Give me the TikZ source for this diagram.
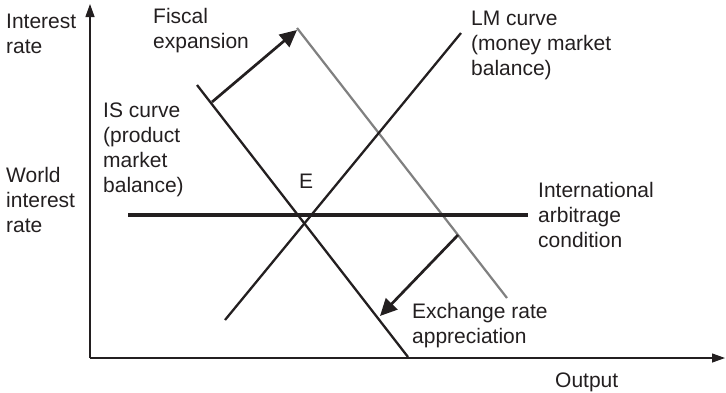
\documentclass[tikz,border=0pt]{standalone}
\usepackage{fontspec}
\setmainfont{Liberation Sans}
\usetikzlibrary{arrows.meta}
\definecolor{ink}{HTML}{231F20}
\definecolor{shiftgray}{HTML}{808080}
\begin{document}
\begin{tikzpicture}[x=1pt,y=-1pt,
  lbl/.style={anchor=north west, inner sep=0pt, align=left, text=ink, font=\fontsize{21}{25}\selectfont},
  axisline/.style={draw=ink, line width=1.3pt, -{Triangle[length=13pt,width=9pt]}},
  curveline/.style={draw=ink, line width=2.3pt},
  grayline/.style={draw=shiftgray, line width=2.2pt},
  arbline/.style={draw=ink, line width=3.3pt},
  shiftarrow/.style={draw=ink, line width=2.7pt, -{Triangle[length=17pt,width=16pt]}}]
\useasboundingbox (0,0) rectangle (726,392);
% coordinates
\coordinate (O) at (90,358);
\coordinate (ytip) at (90,4);
\coordinate (xtip) at (725,358);
\coordinate (IStop) at (197,85);
\coordinate (ISbot) at (408,357);
\coordinate (IS2top) at (297,28);
\coordinate (IS2bot) at (507,298);
\coordinate (LMbot) at (225,320);
\coordinate (LMtop) at (461,33);
\coordinate (ARBl) at (128,215);
\coordinate (ARBr) at (528,215);
\coordinate (FEs) at (212,102);
\coordinate (FEe) at (297,30);
\coordinate (ERs) at (458,235);
\coordinate (ERe) at (380,316);
% axes
\draw[axisline] (O) -- (ytip);
\draw[axisline] (O) -- (xtip);
% curves
\draw[curveline] (IStop) -- (ISbot);
\draw[grayline] (IS2top) -- (IS2bot);
\draw[curveline] (LMbot) -- (LMtop);
\draw[arbline] (ARBl) -- (ARBr);
% shift arrows
\draw[shiftarrow] (FEs) -- (FEe);
\draw[shiftarrow] (ERs) -- (ERe);
% labels
\node[lbl] (ylab) at (6,10.5) {\strut Interest\\rate};
\node[lbl] (fiscal) at (153,5.5) {\strut Fiscal\\expansion};
\node[lbl] (islab) at (103,99.5) {\strut IS curve\\(product\\market\\balance)};
\node[lbl] (world) at (6,164.5) {\strut World\\interest\\rate};
\node[lbl] (E) at (299,170.5) {\strut E};
\node[lbl] (lmlab) at (471,7.5) {\strut LM curve\\(money market\\balance)};
\node[lbl] (arb) at (538,179.5) {\strut International\\arbitrage\\condition};
\node[lbl] (exch) at (412,300.5) {\strut Exchange rate\\appreciation};
\node[lbl] (xlab) at (555,369.5) {\strut Output};
\end{tikzpicture}
\end{document}
